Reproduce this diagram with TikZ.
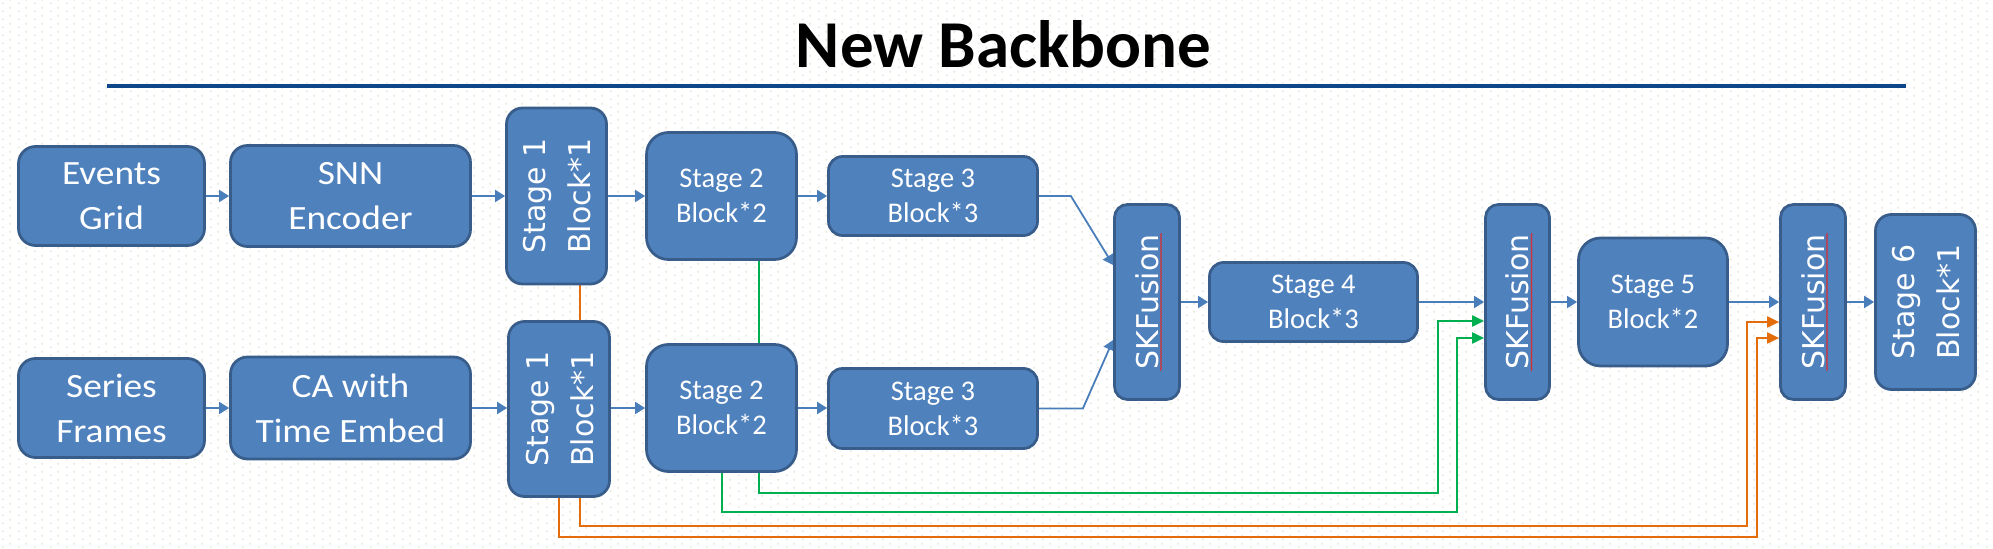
\documentclass[tikz,border=0pt]{standalone}
\usepackage{fontspec}
\setmainfont{Carlito}
\newfontfamily\boxfont[FakeStretch=1.1]{Carlito}
\newfontfamily\rotfont{DejaVu Sans}
\usetikzlibrary{arrows.meta,decorations.pathmorphing,patterns.meta}
\definecolor{boxfill}{RGB}{79,129,189}
\definecolor{boxborder}{RGB}{56,93,138}
\definecolor{arrowblue}{RGB}{74,126,187}
\definecolor{lgreen}{RGB}{0,176,80}
\definecolor{lorange}{RGB}{228,108,10}
\definecolor{rulecolor}{RGB}{14,70,138}
\definecolor{squiggle}{RGB}{225,40,40}
\definecolor{dotcol}{RGB}{232,232,216}
\pgfdeclarepattern{name=bgdots, type=colored,
  bottom left={\pgfpoint{0bp}{0bp}}, top right={\pgfpoint{16bp}{8bp}},
  tile size={\pgfpoint{16bp}{8bp}},
  code={\pgfsetfillcolor{dotcol}
    \pgfpathrectangle{\pgfpoint{3bp}{1bp}}{\pgfpoint{1.8bp}{1.8bp}}
    \pgfpathrectangle{\pgfpoint{11bp}{5bp}}{\pgfpoint{1.8bp}{1.8bp}}
    \pgfusepath{fill}}}
\pgfdeclarelayer{back}
\pgfdeclarelayer{bg}
\pgfsetlayers{back,bg,main}
\begin{document}
\begin{tikzpicture}[x=1bp,y=-1bp,
  box/.style={draw=boxborder, fill=boxfill, line width=2.75bp, text=white, align=center, inner sep=0pt},
  bigtext/.style={font=\boxfont\fontsize{34bp}{45bp}\selectfont},
  midtext/.style={font=\fontsize{28.5bp}{35bp}\selectfont},
  rottext/.style={text=white, align=center, inner sep=0pt, rotate=90, font=\rotfont\fontsize{30bp}{45bp}\selectfont},
  arr/.style={draw=arrowblue, line width=1.8bp, -{Triangle[length=10bp,width=12bp]}},
  garr/.style={draw=lgreen, line width=2bp, -{Triangle[length=12bp,width=11bp]}},
  oarr/.style={draw=lorange, line width=2bp, -{Triangle[length=12bp,width=11bp]}},
  spell/.style={draw=squiggle, line width=0.7bp, decorate, decoration={snake, amplitude=0.6bp, segment length=2.5bp}}
]
\useasboundingbox (0,0) rectangle (1993,549);
\begin{pgfonlayer}{back}
  \fill[white] (0,0) rectangle (1993,549);
  \fill[pattern=bgdots] (0,0) rectangle (1993,549);
\end{pgfonlayer}

% title and rule
\node[font=\bfseries\fontsize{67bp}{80bp}\selectfont, anchor=base, inner sep=0pt] (title) at (1003.5,68) {New Backbone};
\coordinate (ruleL) at (107,86);
\coordinate (ruleR) at (1906,86);
\draw[rulecolor, line width=4bp] (ruleL) -- (ruleR);

% top row
\node[box, bigtext, rounded corners=17bp, minimum width=186bp, minimum height=99bp] (events) at (111.5,196) {Events\\Grid};
\node[box, bigtext, rounded corners=17bp, minimum width=240bp, minimum height=101bp] (snn) at (350.5,196) {SNN\\Encoder};
\node[box, rounded corners=16bp, minimum width=100bp, minimum height=176bp] (s1a) at (556.5,196) {};
\node[rottext] (s1at) at ([xshift=1bp]s1a.center) {Stage 1\\Block*1};
\node[box, midtext, rounded corners=22bp, minimum width=150bp, minimum height=127bp] (s2a) at (721.5,196) {Stage 2\\Block*2};
\node[box, midtext, rounded corners=14bp, minimum width=209bp, minimum height=79bp] (s3a) at (933,196) {Stage 3\\Block*3};

% bottom row
\node[box, bigtext, rounded corners=17bp, minimum width=186bp, minimum height=99bp] (series) at (111.5,408) {Series\\Frames};
\node[box, bigtext, rounded corners=17bp, minimum width=240bp, minimum height=102bp] (ca) at (350.5,408) {CA with\\Time Embed};
\node[box, rounded corners=16bp, minimum width=101bp, minimum height=175bp] (s1b) at (559,409) {};
\node[rottext] (s1bt) at ([xshift=1bp]s1b.center) {Stage 1\\Block*1};
\node[box, midtext, rounded corners=22bp, minimum width=150bp, minimum height=127bp] (s2b) at (721.5,408) {Stage 2\\Block*2};
\node[box, midtext, rounded corners=14bp, minimum width=209bp, minimum height=80bp] (s3b) at (933,408.5) {Stage 3\\Block*3};

% middle row
\node[box, rounded corners=13bp, minimum width=65bp, minimum height=195bp] (sk1) at (1147,302) {};
\node[rottext] (sk1t) at (sk1.center) {SKFusion};
\node[box, midtext, rounded corners=14bp, minimum width=208bp, minimum height=79bp] (s4) at (1313.5,302) {Stage 4\\Block*3};
\node[box, rounded corners=13bp, minimum width=64bp, minimum height=195bp] (sk2) at (1517.5,302) {};
\node[rottext] (sk2t) at (sk2.center) {SKFusion};
\node[box, midtext, rounded corners=22bp, minimum width=149bp, minimum height=128bp] (s5) at (1653,302) {Stage 5\\Block*2};
\node[box, rounded corners=13bp, minimum width=65bp, minimum height=195bp] (sk3) at (1813,302) {};
\node[rottext] (sk3t) at (sk3.center) {SKFusion};
\node[box, rounded corners=16bp, minimum width=100bp, minimum height=175bp] (s6) at (1925.5,302) {};
\node[rottext] (s6t) at ([xshift=1bp]s6.center) {Stage 6\\Block*1};

% spell-check squiggles
\draw[spell] ([xshift=14bp,yshift=69bp]sk1t.center) -- ([xshift=14bp,yshift=-69bp]sk1t.center);
\draw[spell] ([xshift=14bp,yshift=69bp]sk2t.center) -- ([xshift=14bp,yshift=-69bp]sk2t.center);
\draw[spell] ([xshift=14bp,yshift=69bp]sk3t.center) -- ([xshift=14bp,yshift=-69bp]sk3t.center);

% bus corners
\coordinate (g1c) at (1438,493);
\coordinate (g2c) at (1457,512);
\coordinate (o1c) at (1747,526);
\coordinate (o2c) at (1757,537);

\begin{pgfonlayer}{bg}
  \draw[arr] (events) -- (snn);
  \draw[arr] (snn) -- (s1a);
  \draw[arr] (s1a) -- (s2a);
  \draw[arr] (s2a) -- (s3a);
  \draw[arr] (series) -- (ca);
  \draw[arr] (ca) -- (s1b.west |- ca);
  \draw[arr] (s1b.east |- s2b) -- (s2b);
  \draw[arr] (s2b) -- (s3b.west |- s2b);
  \draw[arr] (s3a.east) -- ++(32,0) -- ([yshift=37bp]sk1.west);
  \draw[arr] (s3b.east) -- ++(44,0) -- ([yshift=-38bp]sk1.west);
  \draw[arr] (sk1) -- (s4);
  \draw[arr] (s4) -- (sk2);
  \draw[arr] (sk2) -- (s5);
  \draw[arr] (s5) -- (sk3);
  \draw[arr] (sk3) -- (s6);
  \draw[garr] ([xshift=37.5bp]s2a.south) |- (g1c) |- ([yshift=-19bp]sk2.west);
  \draw[garr] (s2b.south) |- (g2c) |- ([yshift=-36bp]sk2.west);
  \draw[oarr] ([xshift=23.5bp]s1a.south) |- (o1c) |- ([yshift=-20bp]sk3.west);
  \draw[oarr] (s1b.south) |- (o2c) |- ([yshift=-36bp]sk3.west);
\end{pgfonlayer}
\end{tikzpicture}
\end{document}
